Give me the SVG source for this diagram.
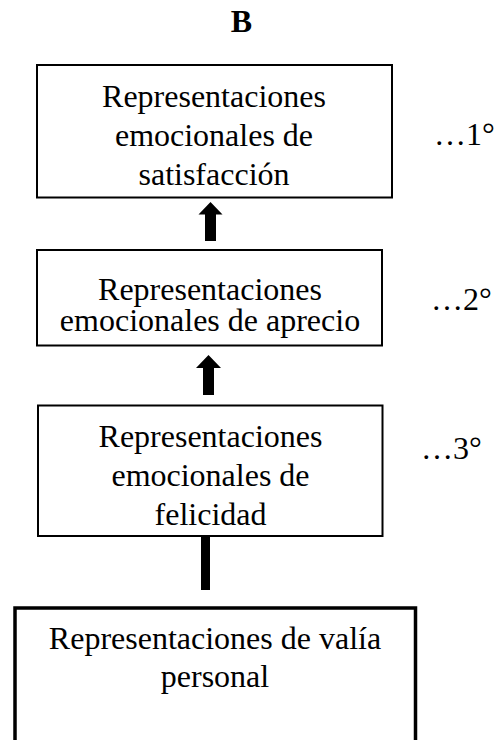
<svg xmlns="http://www.w3.org/2000/svg" width="502" height="740" viewBox="0 0 502 740">
<style>
.t{font-family:"Liberation Serif","Times New Roman",serif;font-size:32px;fill:#000;text-anchor:middle}
.lab{font-family:"Liberation Serif","Times New Roman",serif;font-size:32px;fill:#000}
.box{fill:#fff;stroke:#000;stroke-width:2}
.box4{fill:#fff;stroke:#000;stroke-width:3.5}
.arr{fill:#000}
</style>
<rect width="502" height="740" fill="#fff"/>
<text x="241.5" y="31.5" class="t" font-weight="bold">B</text>
<g id="n1">
<rect class="box" x="37" y="65" width="355" height="132.5"/>
<text class="t" x="214" y="106.5">Representaciones</text>
<text class="t" x="214" y="146">emocionales de</text>
<text class="t" x="214" y="185">satisfacción</text>
</g>
<g id="n2">
<rect class="box" x="37" y="250" width="345" height="95.5"/>
<text class="t" x="210" y="300">Representaciones</text>
<text class="t" x="210" y="331">emocionales de aprecio</text>
</g>
<g id="n3">
<rect class="box" x="38" y="405.5" width="344.5" height="130.5"/>
<text class="t" x="210.5" y="446.5">Representaciones</text>
<text class="t" x="210.5" y="486">emocionales de</text>
<text class="t" x="210.5" y="525">felicidad</text>
</g>
<g id="n4">
<rect class="box4" x="15" y="608" width="400.5" height="160"/>
<text class="t" x="215" y="648.5">Representaciones de valía</text>
<text class="t" x="215" y="687">personal</text>
</g>
<g id="labels">
<text class="lab" x="434" y="145">…1°</text>
<text class="lab" x="431" y="310">…2°</text>
<text class="lab" x="421" y="459">…3°</text>
</g>
<g id="connectors">
<polygon class="arr" points="210.5,202 222.5,214.5 216,214.5 216,241 205,241 205,214.5 198.5,214.5"/>
<polygon class="arr" points="208.5,355 221,368 214,368 214,395 203,395 203,368 196,368"/>
<rect class="arr" x="201" y="536" width="9" height="54"/>
</g>
</svg>
